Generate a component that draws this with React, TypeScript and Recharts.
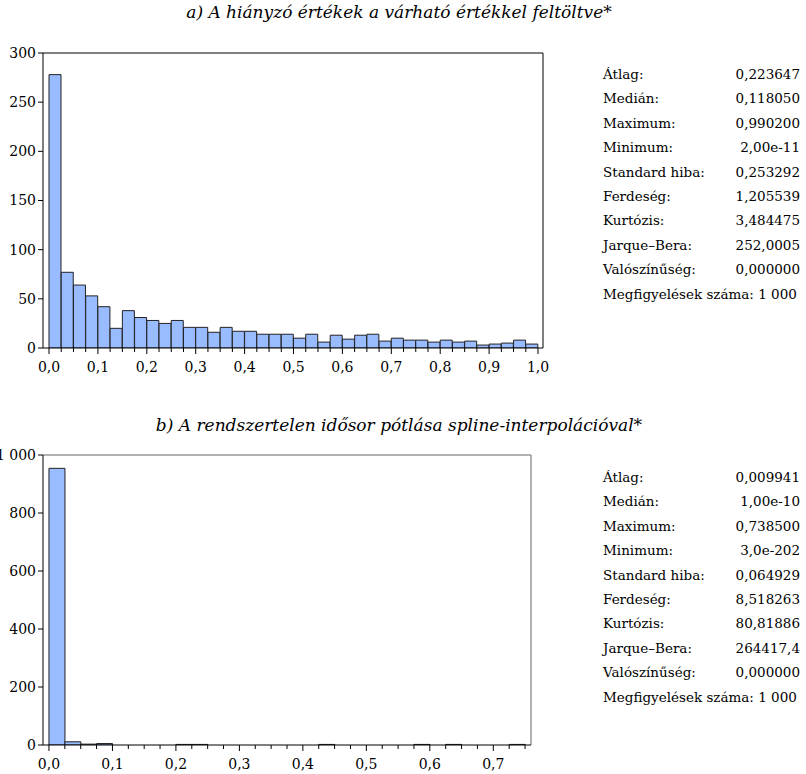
import { ComposedChart, Bar, XAxis, YAxis, ReferenceLine } from 'recharts'

const FONT = "'DejaVu Serif', serif"
const BIN_WIDTH = 0.025

// a) counts per 0.025 bin, 0,0 .. 1,0
const countsA = [
  278, 77, 64, 53, 42, 20, 38, 31, 28, 25,
  28, 21, 21, 16, 21, 17, 17, 14, 14, 14,
  10, 14, 6, 13, 9, 13, 14, 7, 10, 8,
  8, 6, 8, 6, 7, 3, 4, 5, 8, 4,
]
const yTicksA = [0, 50, 100, 150, 200, 250, 300]

// b) counts per 0.025 bin, 0,0 .. 0,75
const countsB = [
  954, 11, 3, 5, 0, 0, 0, 0, 2, 2,
  0, 0, 0, 0, 0, 0, 0, 2, 0, 0,
  0, 0, 0, 2, 0, 2, 0, 0, 0, 2,
]
const yTicksB = [0, 200, 400, 600, 800, 1000]

const statLabels = [
  'Átlag:', 'Medián:', 'Maximum:', 'Minimum:', 'Standard hiba:',
  'Ferdeség:', 'Kurtózis:', 'Jarque–Bera:', 'Valószínűség:',
]
const statsA = ['0,223647', '0,118050', '0,990200', '2,00e-11', '0,253292', '1,205539', '3,484475', '252,0005', '0,000000']
const statsB = ['0,009941', '1,00e-10', '0,738500', '3,0e-202', '0,064929', '8,518263', '80,81886', '264417,4', '0,000000']
const obsLabel = 'Megfigyelések száma: 1 000'

const titleA = 'a) A hiányzó értékek a várható értékkel feltöltve*'
const titleB = 'b) A rendszertelen idősor pótlása spline-interpolációval*'

const fmtThousands = (v: number) => String(v).replace(/\B(?=(\d{3})+(?!\d))/g, ' ')

function renderXTick(props: any) {
  const { x, y, payload } = props
  const v = payload.value as number
  const major = Math.abs(v * 10 - Math.round(v * 10)) < 1e-6
  return (
    <g>
      <line x1={x} y1={y} x2={x} y2={y + (major ? 6 : 4)} stroke="#000" />
      {major && (
        <text x={x} y={y + 24} textAnchor="middle" fill="#000" fontSize={14} fontFamily={FONT}>
          {v.toFixed(1).replace('.', ',')}
        </text>
      )}
    </g>
  )
}

interface HistProps {
  counts: number[]
  yTicks: number[]
  domainX: [number, number]
  width: number
  height: number
  marginTop: number
  marginRight: number
  axisHeight: number
  frame: string
}

function Histogram({ counts, yTicks, domainX, width, height, marginTop, marginRight, axisHeight, frame }: HistProps) {
  const data = counts.map((count, i) => ({ mid: +((i + 0.5) * BIN_WIDTH).toFixed(4), count }))
  const edges = Array.from({ length: counts.length + 1 }, (_, i) => +(i * BIN_WIDTH).toFixed(3))
  const yMax = yTicks[yTicks.length - 1]

  return (
    <ComposedChart
      width={width}
      height={height}
      data={data}
      margin={{ top: marginTop, right: marginRight, bottom: 0, left: 0 }}
      barCategoryGap={0}
      barGap={0}
    >
      <XAxis
        xAxisId="val"
        dataKey="mid"
        type="number"
        domain={domainX}
        allowDataOverflow
        ticks={edges}
        interval={0}
        tickSize={0}
        tickMargin={0}
        tickLine={false}
        tick={renderXTick}
        axisLine={{ stroke: '#000' }}
        height={axisHeight}
      />
      <YAxis
        yAxisId="left"
        type="number"
        domain={[0, yMax]}
        allowDataOverflow
        ticks={yTicks}
        interval={0}
        width={43}
        tickSize={5}
        tickMargin={2}
        tickLine={{ stroke: '#000' }}
        axisLine={{ stroke: '#000' }}
        tick={{ fill: '#000', fontSize: 14, fontFamily: FONT }}
        tickFormatter={fmtThousands}
      />
      {/* frame: top and right edges of the plot box */}
      <ReferenceLine xAxisId="val" yAxisId="left" y={yMax} stroke={frame} ifOverflow="extendDomain" />
      <ReferenceLine xAxisId="val" yAxisId="left" x={domainX[1]} stroke={frame} ifOverflow="extendDomain" />
      <Bar
        xAxisId="val"
        yAxisId="left"
        dataKey="count"
        fill="#99bbff"
        stroke="#222"
        strokeWidth={1}
        isAnimationActive={false}
      />
    </ComposedChart>
  )
}

function StatsPanel({ values, top }: { values: string[]; top: number }) {
  const rowH = 24.4
  return (
    <div style={{ position: 'absolute', left: 603, top, width: 200, fontFamily: FONT, fontSize: 13.5, color: '#000' }}>
      {statLabels.map((label, i) => (
        <div key={label} style={{ display: 'flex', justifyContent: 'space-between', height: rowH, lineHeight: `${rowH}px`, width: 197 }}>
          <span>{label}</span>
          <span>{values[i]}</span>
        </div>
      ))}
      <div style={{ height: rowH, lineHeight: `${rowH}px`, whiteSpace: 'nowrap' }}>{obsLabel}</div>
    </div>
  )
}

export default function App() {
  const titleStyle = {
    position: 'absolute' as const,
    left: 0,
    width: 798,
    textAlign: 'center' as const,
    fontFamily: FONT,
    fontStyle: 'italic',
    fontSize: 17,
    lineHeight: '24px',
    color: '#000',
    whiteSpace: 'nowrap' as const,
  }

  return (
    <div style={{ position: 'absolute', left: 0, top: 0, width: 806, height: 774, background: '#fff', overflow: 'hidden' }}>
      <div style={{ ...titleStyle, top: 0 }}>{titleA}</div>
      <div style={{ position: 'absolute', left: 0, top: 40 }}>
        <Histogram
          counts={countsA}
          yTicks={yTicksA}
          domainX={[-0.0123, 1.0102]}
          width={560}
          height={340}
          marginTop={13}
          marginRight={17}
          axisHeight={32}
          frame="#000"
        />
      </div>
      <StatsPanel values={statsA} top={62} />

      <div style={{ ...titleStyle, top: 413 }}>{titleB}</div>
      <div style={{ position: 'absolute', left: 0, top: 440 }}>
        <Histogram
          counts={countsB}
          yTicks={yTicksB}
          domainX={[-0.0094, 0.7594]}
          width={560}
          height={334}
          marginTop={15}
          marginRight={29}
          axisHeight={29}
          frame="#666"
        />
      </div>
      <StatsPanel values={statsB} top={465} />
    </div>
  )
}
